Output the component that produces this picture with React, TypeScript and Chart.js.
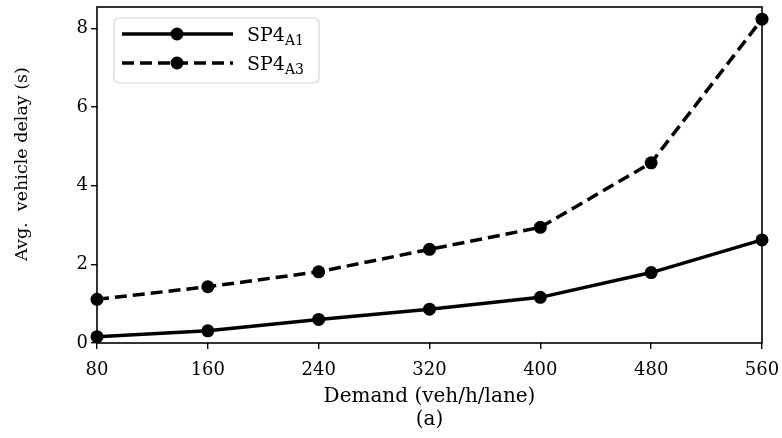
import React, { useEffect, useRef } from "react";
import { Chart, registerables } from "chart.js";

Chart.register(...registerables);

const demand = [80, 160, 240, 320, 400, 480, 560];
const delayA1 = [0.16, 0.31, 0.6, 0.86, 1.16, 1.79, 2.62];
const delayA3 = [1.11, 1.43, 1.81, 2.38, 2.94, 4.58, 8.23];
const yTicks = [0, 2, 4, 6, 8];
const seriesNames = [
  { base: "SP4", sub: "A1", dash: [] as number[] },
  { base: "SP4", sub: "A3", dash: [12, 6] },
];
const yTitle = "Avg.  vehicle delay (s)";
const xTitle = ["Demand (veh/h/lane)", "(a)"];

const FONT = "'DejaVu Serif', serif";
const FS = 18;

const frameAndLegend = {
  id: "frameAndLegend",
  afterDraw(chart: any) {
    const { ctx, chartArea } = chart;
    ctx.save();
    ctx.strokeStyle = "#000";
    ctx.lineWidth = 1.6;
    ctx.strokeRect(chartArea.left, chartArea.top, chartArea.right - chartArea.left, chartArea.bottom - chartArea.top);

    // y title
    ctx.save();
    ctx.translate(22, 164);
    ctx.rotate(-Math.PI / 2);
    ctx.font = `17.5px ${FONT}`;
    ctx.fillStyle = "#000";
    ctx.textAlign = "center";
    ctx.textBaseline = "middle";
    ctx.fillText(yTitle, 0, 0);
    ctx.restore();

    // legend
    const bx = chartArea.left + 17;
    const by = chartArea.top + 11;
    const bw = 205;
    const bh = 65;
    ctx.fillStyle = "rgba(255,255,255,0.85)";
    ctx.strokeStyle = "#d6d6d6";
    ctx.lineWidth = 1.2;
    ctx.beginPath();
    (ctx as any).roundRect(bx, by, bw, bh, 5);
    ctx.fill();
    ctx.stroke();
    seriesNames.forEach((s, i) => {
      const y = by + 16 + i * 29;
      ctx.strokeStyle = "#000";
      ctx.lineWidth = 3.5;
      ctx.setLineDash(s.dash);
      ctx.beginPath();
      ctx.moveTo(bx + 8, y);
      ctx.lineTo(bx + 119, y);
      ctx.stroke();
      ctx.setLineDash([]);
      ctx.fillStyle = "#000";
      ctx.beginPath();
      ctx.arc(bx + 63, y, 6.5, 0, Math.PI * 2);
      ctx.fill();
      ctx.font = `19px ${FONT}`;
      ctx.textBaseline = "alphabetic";
      ctx.textAlign = "left";
      const tx = bx + 133;
      ctx.fillText(s.base, tx, y + 7);
      const w = ctx.measureText(s.base).width;
      ctx.font = `14px ${FONT}`;
      ctx.fillText(s.sub, tx + w, y + 11);
    });
    ctx.restore();
  },
};

export default function App() {
  const ref = useRef<HTMLCanvasElement>(null);
  useEffect(() => {
    document.body.style.margin = "0";
    const common = {
      borderColor: "#000",
      backgroundColor: "#000",
      borderWidth: 3.5,
      pointRadius: 6.5,
      pointHoverRadius: 6.5,
      pointBackgroundColor: "#000",
      pointBorderWidth: 0,
      clip: false as any,
    };
    const chart = new Chart(ref.current!, {
      type: "line",
      data: {
        datasets: [
          { label: "SP4_A1", data: demand.map((x, i) => ({ x, y: delayA1[i] })), ...common },
          { label: "SP4_A3", data: demand.map((x, i) => ({ x, y: delayA3[i] })), ...common, borderDash: [12, 6] },
        ],
      },
      options: {
        animation: false,
        responsive: false,
        layout: { padding: { top: 7, right: 20, left: 0, bottom: 0 } },
        plugins: { legend: { display: false }, tooltip: { enabled: false } },
        scales: {
          x: {
            type: "linear",
            min: 80,
            max: 560,
            afterBuildTicks: (axis: any) => {
              axis.ticks = demand.map((v) => ({ value: v }));
            },
            grid: { drawOnChartArea: false, drawTicks: true, tickLength: 6, color: "#000", lineWidth: 1.4 },
            border: { display: false },
            ticks: { color: "#000", font: { family: FONT, size: FS }, padding: 11, maxRotation: 0 },
            title: {
              display: true,
              text: xTitle,
              color: "#000",
              font: { family: FONT, size: 20, lineHeight: 1.15 },
              padding: { top: 2, bottom: 7 },
            },
            afterFit: (axis: any) => {
              axis.height = 95;
              axis.paddingRight = 0;
              axis.paddingLeft = 0;
            },
          },
          y: {
            min: 0,
            max: 8.54,
            afterBuildTicks: (axis: any) => {
              axis.ticks = yTicks.map((v) => ({ value: v }));
            },
            grid: { drawOnChartArea: false, drawTicks: true, tickLength: 6, color: "#000", lineWidth: 1.4 },
            border: { display: false },
            ticks: { color: "#000", font: { family: FONT, size: FS }, padding: 3 },
            title: { display: false },
            afterFit: (axis: any) => {
              axis.width = 97;
              axis.paddingTop = 0;
              axis.paddingBottom = 0;
            },
          },
        },
      },
      plugins: [frameAndLegend],
    });
    return () => chart.destroy();
  }, []);
  return (
    <div style={{ position: "absolute", left: 0, top: 0, width: 782, height: 438 }}>
      <canvas ref={ref} width={782} height={438} />
    </div>
  );
}
